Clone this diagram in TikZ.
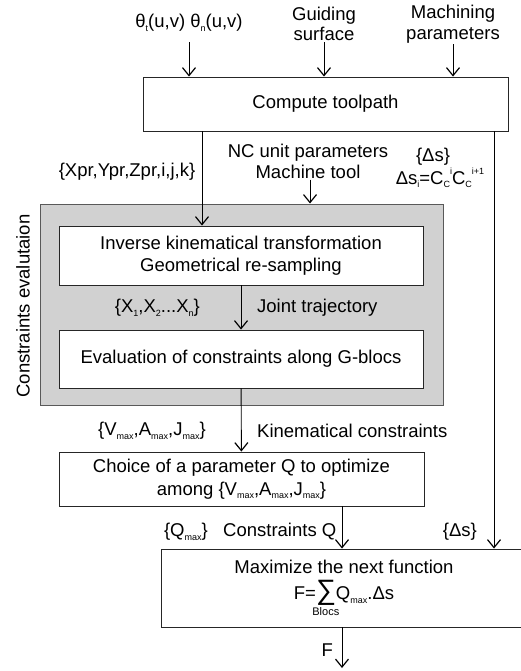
\documentclass[tikz,border=0pt]{standalone}
\usepackage{fontspec}
\setmainfont{Liberation Sans}
\usetikzlibrary{arrows.meta, positioning}
\newcommand{\lo}[1]{\raisebox{-0.35ex}{\fontsize{9}{9}\selectfont #1}}
\newcommand{\hi}[1]{\raisebox{0.95ex}{\fontsize{9}{9}\selectfont #1}}
\tikzstyle{process} = [rectangle, 
draw=black!85, 
line width=0.9pt, 
fill=white, 
align=center, 
text centered, 
font=\fontsize{18.5}{22.5}\selectfont]
\tikzstyle{greybox} = [rectangle, 
draw=black!65, 
line width=1pt, 
fill=black!18]
\tikzstyle{lbl} = [inner sep=1pt, align=center, 
font=\fontsize{18.5}{20.5}\selectfont]
\tikzstyle{arrow} = [line width=0.9pt, -{Straight Barb[length=8pt,width=13pt,line width=1.2pt]}]

\begin{document}
\begin{tikzpicture}[x=1pt, y=-1pt]
        \useasboundingbox (0,0) rectangle (521,671);
        % Entradas
        \node (theta) [lbl] at (189,23) {θ\lo{t}(u,v) θ\lo{n}(u,v)};
        \node (guide) [lbl] at (324,24) {Guiding\\surface};
        \node (mach) [lbl] at (453,24) {Machining\\parameters};
        \node (comp) [process, minimum width=365pt, minimum height=54pt] at (325.5,104) {Compute toolpath};
        
        % Bloque gris de restricciones
        \node (cbox) [greybox, minimum width=403pt, minimum height=201pt] at (241.5,304.5) {};
        \node (ctitle) [lbl, rotate=90] at (23,306) {Constraints evalutaion};
        \node (inv) [process, minimum width=364pt, minimum height=59pt] at (241,255.5) {Inverse kinematical transformation\\Geometrical re-sampling};
        \node (evalc) [process, minimum width=364pt, minimum height=58pt] at (241,359) {Evaluation of constraints along G-blocs};
        \node (choice) [process, minimum width=365pt, minimum height=54pt] at (241.5,479) {Choice of a parameter Q to optimize\\among \{V\lo{max},A\lo{max},J\lo{max}\}};
        \node (maxf) [process, minimum width=366pt, minimum height=78pt] at (344,588) {Maximize the next function\\[4pt]F=$\mathop{\hbox{\fontsize{28}{28}\selectfont ∑}}\limits_{\hbox to 0pt{\hskip-2pt\fontsize{11}{11}\selectfont Blocs\hss}}$Q\lo{max}.Δs};
        
        % Etiquetas
        \node (xpr) [lbl] at (127,172) {\{Xpr,Ypr,Zpr,i,j,k\}};
        \node (nc) [lbl] at (308,161.5) {NC unit parameters\\Machine tool};
        \node (ds1) [lbl] at (433,157) {\{Δs\}};
        \node (ds2) [lbl] at (440,178) {Δs\lo{i}=C\lo{C}\hi{i}C\lo{C}\hi{i+1}};
        \node (xs) [lbl, anchor=east] at (201,308) {\{X\lo{1},X\lo{2}...X\lo{n}\}};
        \node (joint) [lbl, anchor=west] at (256,308) {Joint trajectory};
        \node (vmax) [lbl, anchor=east] at (207,431) {\{V\lo{max},A\lo{max},J\lo{max}\}};
        \node (kin) [lbl, anchor=west] at (256,431) {Kinematical constraints};
        \node (qmax) [lbl, anchor=east] at (209,532) {\{Q\lo{max}\}};
        \node (cq) [lbl, anchor=west] at (222,532) {Constraints Q};
        \node (ds3) [lbl, anchor=east] at (478,532) {\{Δs\}};
        \node (fout) [lbl, anchor=east] at (334,650) {F};
        
        \coordinate (xa) at (202,0);
        \coordinate (da) at (494,0);
        \coordinate (qa) at (342,0);
        \coordinate (fend) at (342,668);
        
        % Conexiones
        \draw [arrow] (theta.south |- guide.south) -- (theta.south |- comp.north);
        \draw [arrow] (guide.south) -- (guide.south |- comp.north);
        \draw [arrow] (mach.south) -- (mach.south |- comp.north);
        \draw [arrow] (xa |- comp.south) -- (xa |- inv.north);
        \draw [arrow] (da |- comp.south) -- (da |- maxf.north);
        \draw [arrow] ([xshift=2pt]nc.south) -- ([xshift=2pt]nc.south |- cbox.north);
        \draw [arrow] (inv) -- (evalc);
        \draw [arrow] (evalc) -- (choice);
        \draw [arrow] (qa |- choice.south) -- (qa |- maxf.north);
        \draw [arrow] (qa |- maxf.south) -- (fend);

    \end{tikzpicture}
\end{document}
